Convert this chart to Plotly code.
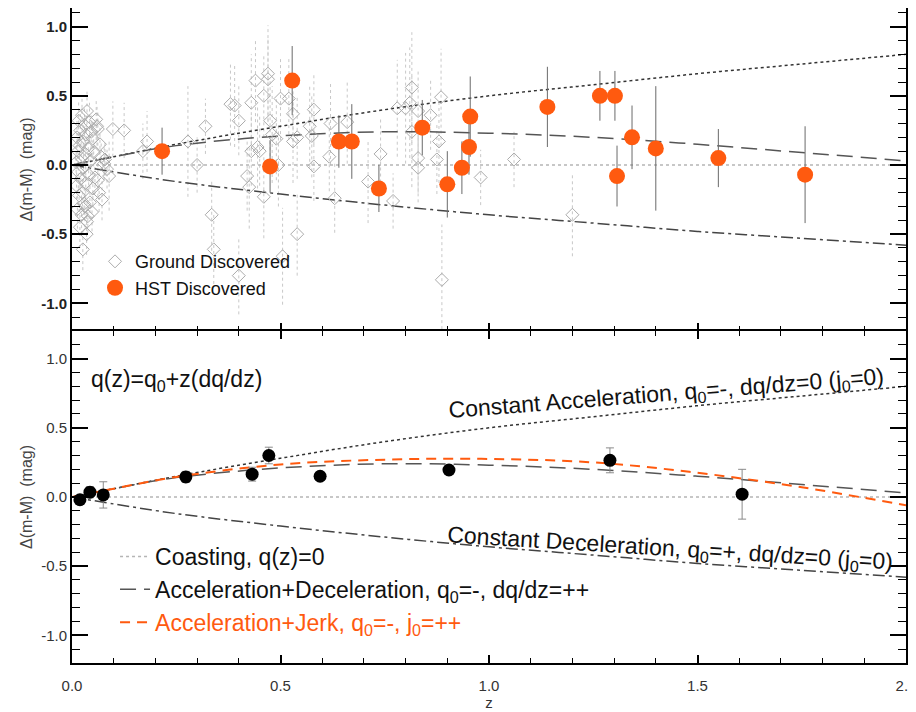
import plotly.graph_objects as go
from plotly.subplots import make_subplots

# ---------------- data ----------------
ground_z = [0.010, 0.011, 0.012, 0.013, 0.014, 0.015, 0.016, 0.017, 0.018, 0.019,
            0.020, 0.021, 0.022, 0.023, 0.024, 0.025, 0.026, 0.027, 0.028, 0.029,
            0.030, 0.031, 0.032, 0.033, 0.034, 0.035, 0.036, 0.036, 0.038, 0.039,
            0.040, 0.042, 0.043, 0.045, 0.046, 0.048, 0.050, 0.050, 0.052, 0.055,
            0.058, 0.060, 0.062, 0.062, 0.065, 0.067, 0.070, 0.072, 0.077, 0.079,
            0.084, 0.089, 0.098, 0.125, 0.170, 0.180,
            0.278, 0.300, 0.320, 0.335, 0.340, 0.380, 0.390, 0.400, 0.400, 0.420,
            0.425, 0.430, 0.430, 0.440, 0.445, 0.450, 0.460, 0.460, 0.470, 0.470,
            0.475, 0.480, 0.490, 0.495, 0.500, 0.505, 0.520, 0.530, 0.530, 0.540,
            0.540, 0.570, 0.575, 0.580, 0.580, 0.617, 0.620, 0.630, 0.660, 0.710,
            0.740, 0.770, 0.780, 0.800, 0.810, 0.815, 0.815, 0.830, 0.830, 0.830,
            0.860, 0.875, 0.880, 0.885, 0.887, 0.980, 1.060, 1.200]
ground_dm = [0.02, -0.15, 0.20, -0.32, 0.10, -0.05, 0.32, -0.22, 0.14, -0.45,
             0.25, -0.10, 0.05, -0.36, 0.36, -0.20, -0.61, 0.17, -0.02, -0.28,
             0.29, -0.30, 0.08, -0.13, 0.22, -0.50, 0.39, -0.41, -0.37, 0.12,
             -0.07, 0.31, -0.27, 0.03, 0.24, -0.34, 0.19, -0.17, 0.09, -0.09,
             0.33, 0.28, 0.26, -0.11, -0.20, 0.15, 0.06, -0.25, 0.01, 0.04,
             -0.03, -0.08, 0.26, 0.25, 0.10, 0.17,
             0.17, 0.00, 0.28, -0.36, -0.61, 0.44, 0.43, 0.32, -0.80, -0.08,
             -0.16, 0.45, 0.10, 0.61, 0.13, 0.10, 0.50, -0.23, 0.66, 0.62,
             0.32, 0.22, 0.19, 0.00, 0.48, -0.66, 0.48, 0.37, 0.17, -0.50,
             0.20, 0.28, 0.21, 0.40, -0.01, 0.06, 0.30, -0.24, 0.31, -0.12,
             0.08, -0.26, 0.41, 0.41, 0.45, 0.56, 0.24, 0.39, 0.05, -0.02,
             0.36, 0.04, 0.17, 0.49, -0.83, -0.09, 0.04, -0.36]
ground_err = [0.12, 0.10, 0.12, 0.14, 0.10, 0.12, 0.15, 0.12, 0.10, 0.15,
              0.12, 0.10, 0.12, 0.14, 0.12, 0.10, 0.15, 0.12, 0.10, 0.12,
              0.12, 0.15, 0.10, 0.12, 0.12, 0.15, 0.14, 0.14, 0.12, 0.10,
              0.12, 0.14, 0.12, 0.10, 0.12, 0.14, 0.12, 0.12, 0.10, 0.12,
              0.15, 0.14, 0.12, 0.12, 0.14, 0.12, 0.10, 0.15, 0.12, 0.12,
              0.14, 0.25, 0.20, 0.20, 0.20, 0.22,
              0.40, 0.20, 0.20, 0.26, 0.25, 0.30, 0.30, 0.25, 0.28, 0.25,
              0.30, 0.35, 0.25, 0.30, 0.30, 0.25, 0.30, 0.30, 0.35, 0.30,
              0.30, 0.35, 0.30, 0.30, 0.30, 0.35, 0.30, 0.25, 0.30, 0.30,
              0.30, 0.30, 0.30, 0.25, 0.25, 0.25, 0.30, 0.25, 0.30, 0.30,
              0.25, 0.20, 0.35, 0.40, 0.40, 0.40, 0.40, 0.30, 0.25, 0.25,
              0.25, 0.25, 0.30, 0.35, 0.40, 0.20, 0.20, 0.30]

hst_z = [0.216, 0.475, 0.528, 0.640, 0.671, 0.736, 0.840, 0.900, 0.935, 0.952,
         0.955, 1.140, 1.266, 1.302, 1.307, 1.343, 1.400, 1.550, 1.758]
hst_dm = [0.10, -0.01, 0.61, 0.17, 0.17, -0.17, 0.27, -0.14, -0.02, 0.13,
          0.35, 0.42, 0.50, 0.50, -0.08, 0.20, 0.12, 0.05, -0.07]
hst_err = [0.17, 0.19, 0.25, 0.19, 0.27, 0.17, 0.20, 0.24, 0.19, 0.20,
           0.29, 0.29, 0.18, 0.18, 0.22, 0.23, 0.45, 0.21, 0.35]

bin_z = [0.019, 0.043, 0.075, 0.273, 0.432, 0.472, 0.595, 0.904, 1.290, 1.607]
bin_dm = [-0.02, 0.035, 0.015, 0.145, 0.165, 0.30, 0.15, 0.195, 0.265, 0.02]
bin_err = [0.03, 0.04, 0.095, 0.04, 0.05, 0.06, 0.03, 0.03, 0.09, 0.18]

curve_z = [0.0, 0.1, 0.25, 0.5, 0.75, 1.0, 1.25, 1.5, 1.75, 2.0]
const_acc = [0.0, 0.06, 0.15, 0.28, 0.40, 0.50, 0.58, 0.66, 0.73, 0.80]
const_dec = [0.0, -0.05, -0.12, -0.21, -0.29, -0.36, -0.42, -0.48, -0.53, -0.58]
acc_dec = [0.0, 0.06, 0.14, 0.21, 0.24, 0.23, 0.20, 0.15, 0.09, 0.03]
acc_jerk = [0.0, 0.06, 0.145, 0.235, 0.27, 0.275, 0.25, 0.175, 0.07, -0.06]
coast_z = [0.0, 2.0]
coast_dm = [0.0, 0.0]

x_tick_vals = [0.0, 0.5, 1.0, 1.5, 2.0]
x_tick_text = ["0.0", "0.5", "1.0", "1.5", "2.0"]
y_tick_vals = [-1.0, -0.5, 0.0, 0.5, 1.0]
y_tick_text = ["-1.0", "-0.5", "0.0", "0.5", "1.0"]

# ---------------- styles ----------------
FONT = "Liberation Sans, Arial, Helvetica, sans-serif"
ORANGE = "#ff5a0f"
fig = make_subplots(rows=2, cols=1, shared_xaxes=True, vertical_spacing=0)

# dotted error bars of ground-discovered SNe (built from the data arrays)
gx, gy = [], []
for z, d, e in zip(ground_z, ground_dm, ground_err):
    gx += [z, z, None]
    gy += [d - e, d + e, None]
fig.add_trace(go.Scatter(x=gx, y=gy, mode="lines", showlegend=False, hoverinfo="skip",
                         line=dict(color="#c8c8c8", width=1, dash="dot")), row=1, col=1)


def model_lines(row, show):
    fig.add_trace(go.Scatter(x=coast_z, y=coast_dm, mode="lines", name="Coasting, q(z)=0",
                             legend="legend2", showlegend=show,
                             line=dict(color="#b5b5b5", width=1.5, dash="dot")), row=row, col=1)
    fig.add_trace(go.Scatter(x=curve_z, y=const_acc, mode="lines", showlegend=False,
                             line=dict(color="#333333", width=1.5, dash="dot", shape="spline")),
                  row=row, col=1)
    fig.add_trace(go.Scatter(x=curve_z, y=const_dec, mode="lines", showlegend=False,
                             line=dict(color="#444444", width=1.5, dash="12px,4px,3px,4px",
                                       shape="spline")), row=row, col=1)
    fig.add_trace(go.Scatter(x=curve_z, y=acc_dec, mode="lines", legend="legend2", showlegend=show,
                             name="Acceleration+Deceleration, q<sub>0</sub>=-, dq/dz=++",
                             line=dict(color="#555555", width=1.5, dash="16px,8px",
                                       shape="spline")), row=row, col=1)


model_lines(1, False)

fig.add_trace(go.Scatter(x=ground_z, y=ground_dm, mode="markers", name="Ground Discovered",
                         legend="legend",
                         marker=dict(symbol="diamond-open", size=10, color="#ababab",
                                     line=dict(width=1, color="#ababab"))), row=1, col=1)
fig.add_trace(go.Scatter(x=hst_z, y=hst_dm, mode="markers", name="HST Discovered",
                         legend="legend",
                         error_y=dict(type="data", array=hst_err, color="#6a6a6a",
                                      thickness=1, width=0),
                         marker=dict(symbol="circle", size=16, color=ORANGE)), row=1, col=1)

model_lines(2, True)
fig.add_trace(go.Scatter(x=curve_z, y=acc_jerk, mode="lines", legend="legend2",
                         name='<span style="color:#ff5a0f">Acceleration+Jerk, q<sub>0</sub>=-, '
                              'j<sub>0</sub>=++</span>',
                         line=dict(color=ORANGE, width=2, dash="10px,7px", shape="spline")),
              row=2, col=1)
fig.add_trace(go.Scatter(x=bin_z, y=bin_dm, mode="markers", showlegend=False,
                         error_y=dict(type="data", array=bin_err, color="#8a8a8a",
                                      thickness=1, width=4),
                         marker=dict(symbol="circle", size=13, color="black")), row=2, col=1)

# ---------------- axes ----------------
xcommon = dict(range=[0, 2.0], showline=True, linecolor="black", linewidth=2, mirror="ticks",
               ticks="inside", ticklen=8, tickwidth=1.5, tickcolor="black", automargin=False,
               tickvals=x_tick_vals, ticktext=x_tick_text, showgrid=False, zeroline=False,
               ticklabeloverflow="allow",
               minor=dict(tickmode="linear", tick0=0, dtick=0.1, ticklen=5, ticks="inside",
                          tickcolor="black", tickwidth=1))
fig.update_xaxes(**xcommon)
fig.update_xaxes(showticklabels=False, mirror=False, showline=False, side="bottom", row=1, col=1)
fig.update_xaxes(tickfont=dict(family=FONT, size=15, color="#333333"), ticklabelstandoff=8,
                 title=dict(text="z", font=dict(family=FONT, size=15, color="#333333"), standoff=2),
                 row=2, col=1)

ycommon = dict(showline=True, linecolor="black", linewidth=2, mirror="ticks",
               ticks="inside", ticklen=16, tickwidth=1.5, tickcolor="black", automargin=False,
               tickvals=y_tick_vals, ticktext=y_tick_text, showgrid=False, zeroline=False,
               minor=dict(tickmode="linear", tick0=0, dtick=0.1, ticklen=8, ticks="inside",
                          tickcolor="black", tickwidth=1),
               title=dict(text="Δ(m-M)  (mag)", font=dict(family=FONT, size=16, color="#444444"),
                          standoff=5))
fig.update_yaxes(**ycommon)
fig.update_yaxes(domain=[0.5069, 1.0], range=[-1.2, 1.135],
                 tickfont=dict(family=FONT, size=15, color="#222222", weight="bold"), row=1, col=1)
fig.update_yaxes(domain=[0.0, 0.5069], range=[-1.2, 1.2],
                 tickfont=dict(family=FONT, size=15, color="#333333"), row=2, col=1)

# ---------------- text ----------------
fig.add_annotation(x=0.04, y=0.845, xref="x2", yref="y2", xanchor="left", yanchor="middle",
                   text="q(z)=q<sub>0</sub>+z(dq/dz)", showarrow=False,
                   font=dict(family=FONT, size=23, color="#111111"))
fig.add_annotation(x=1.425, y=0.74, xref="x2", yref="y2", textangle=-4.5,
                   text="Constant Acceleration, q<sub>0</sub>=-, dq/dz=0 (j<sub>0</sub>=0)",
                   showarrow=False, font=dict(family=FONT, size=23, color="#111111"))
fig.add_annotation(x=1.435, y=-0.38, xref="x2", yref="y2", textangle=3.5,
                   text="Constant Deceleration, q<sub>0</sub>=+, dq/dz=0 (j<sub>0</sub>=0)",
                   showarrow=False, font=dict(family=FONT, size=23, color="#111111"))

fig.update_layout(
    width=916, height=712,
    margin=dict(l=64, r=18, t=0, b=57),
    paper_bgcolor="white", plot_bgcolor="white",
    font=dict(family=FONT, color="#111111"),
    legend=dict(x=0.0276, y=0.641, xanchor="left", yanchor="top", bgcolor="rgba(0,0,0,0)",
                font=dict(family=FONT, size=18, color="#111111"), tracegroupgap=0),
    legend2=dict(x=0.0516, y=0.1954, xanchor="left", yanchor="top", bgcolor="rgba(0,0,0,0)",
                 font=dict(family=FONT, size=23, color="#111111"), tracegroupgap=0),
)

fig.write_html("out.html")
